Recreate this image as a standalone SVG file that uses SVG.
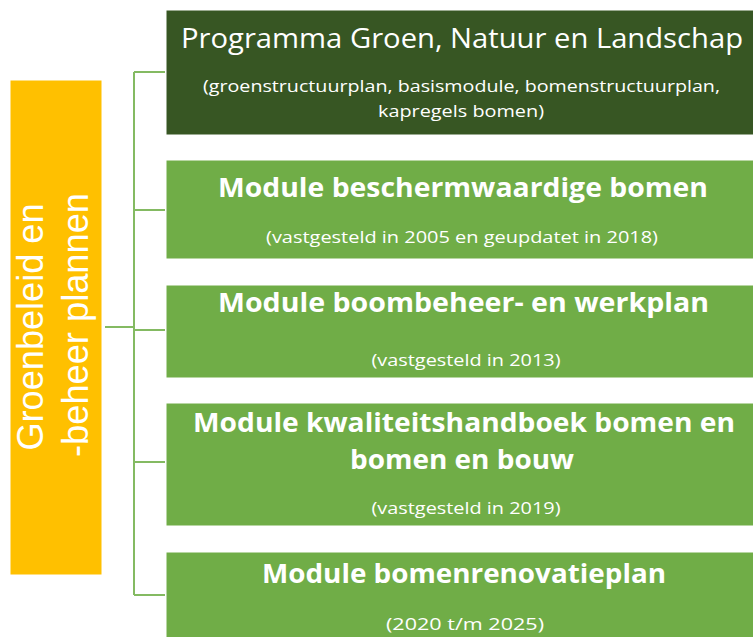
<svg xmlns="http://www.w3.org/2000/svg" width="753" height="637" viewBox="0 0 753 637">
<style>
.box{stroke:#ffffff;stroke-width:1}
.t{font-family:"Open Sans","Liberation Sans",sans-serif;fill:#ffffff;text-anchor:middle}
.b{font-weight:bold;font-size:27px}
.s{font-size:16.5px}
.conn{fill:none;stroke:#84BA62;stroke-width:2}
.side{font-family:"Liberation Sans",Arial,sans-serif;font-size:36px;fill:#ffffff;text-anchor:middle}
</style>
<rect width="753" height="637" fill="#ffffff"/>
<g id="connectors">
<path class="conn" d="M105,327 H134 M134,72 V595 M134,72 H165 M134,210 H165 M134,330 H165 M134,462 H165 M134,595 H165"/>
</g>
<g id="side">
<rect x="10" y="80" width="92" height="495" fill="#FFC000" class="box"/>
<text class="side" transform="translate(43,327) rotate(-90)" textLength="247" lengthAdjust="spacingAndGlyphs">Groenbeleid en</text>
<text class="side" transform="translate(88,325) rotate(-90)" textLength="264" lengthAdjust="spacingAndGlyphs">-beheer plannen</text>
</g>
<g id="programma">
<rect x="166" y="10" width="588" height="125" fill="#375623" class="box"/>
<text class="t" x="462" y="48" font-size="27" textLength="562" lengthAdjust="spacingAndGlyphs">Programma Groen, Natuur en Landschap</text>
<text class="t s" x="461.5" y="92" textLength="517" lengthAdjust="spacingAndGlyphs">(groenstructuurplan, basismodule, bomenstructuurplan,</text>
<text class="t s" x="461" y="117" textLength="166" lengthAdjust="spacingAndGlyphs">kapregels bomen)</text>
</g>
<g id="module-beschermwaardig">
<rect x="166" y="160" width="588" height="99" fill="#70AD47" class="box"/>
<text class="t b" x="463" y="197" textLength="490" lengthAdjust="spacingAndGlyphs">Module beschermwaardige bomen</text>
<text class="t s" x="462" y="243" textLength="392" lengthAdjust="spacingAndGlyphs">(vastgesteld in 2005 en geupdatet in 2018)</text>
</g>
<g id="module-boombeheer">
<rect x="166" y="285" width="588" height="93" fill="#70AD47" class="box"/>
<text class="t b" x="463.5" y="312" textLength="491" lengthAdjust="spacingAndGlyphs">Module boombeheer- en werkplan</text>
<text class="t s" x="466" y="366" textLength="189" lengthAdjust="spacingAndGlyphs">(vastgesteld in 2013)</text>
</g>
<g id="module-kwaliteit">
<rect x="166" y="403" width="588" height="123" fill="#70AD47" class="box"/>
<text class="t b" x="464" y="432" textLength="542" lengthAdjust="spacingAndGlyphs">Module kwaliteitshandboek bomen en</text>
<text class="t b" x="462" y="469" textLength="224" lengthAdjust="spacingAndGlyphs">bomen en bouw</text>
<text class="t s" x="466" y="514" textLength="189" lengthAdjust="spacingAndGlyphs">(vastgesteld in 2019)</text>
</g>
<g id="module-renovatie">
<rect x="166" y="552" width="588" height="90" fill="#70AD47" class="box"/>
<text class="t b" x="464" y="583" textLength="404" lengthAdjust="spacingAndGlyphs">Module bomenrenovatieplan</text>
<text class="t s" x="465" y="630" textLength="158" lengthAdjust="spacingAndGlyphs">(2020 t/m 2025)</text>
</g>
</svg>
